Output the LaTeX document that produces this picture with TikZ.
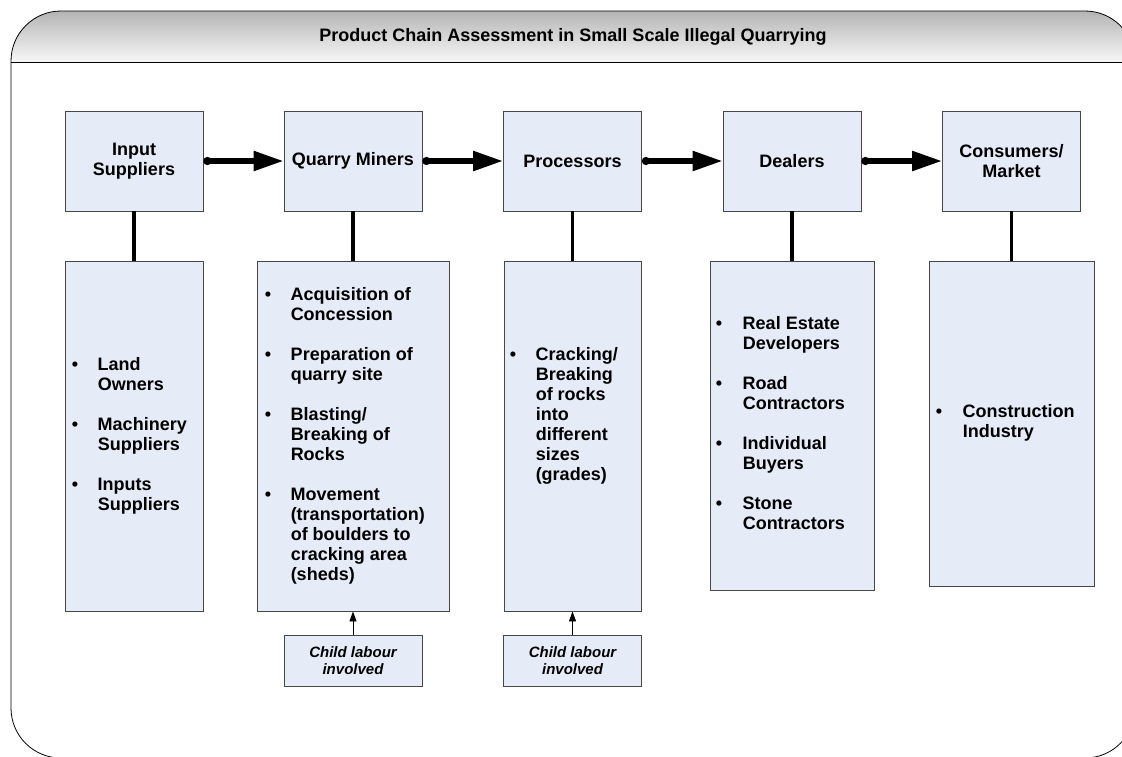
\documentclass[tikz,border=0pt]{standalone}
\usepackage{fontspec}
\setmainfont{Liberation Sans}
\usetikzlibrary{arrows.meta}

\definecolor{boxfill}{RGB}{229,235,247}
\definecolor{boxline}{RGB}{70,70,70}
\definecolor{bartop}{RGB}{180,180,180}
\definecolor{barbot}{RGB}{248,248,248}

\begin{document}
\begin{tikzpicture}[x=1pt, y=-1pt,
    stage/.style={draw=boxline, fill=boxfill, line width=0.9pt, minimum width=138pt, minimum height=100pt, inner sep=0pt, align=center, font=\fontsize{18}{20}\selectfont\bfseries},
    detail/.style={draw=boxline, fill=boxfill, line width=0.9pt, inner sep=0pt},
    items/.style={anchor=west, inner sep=0pt, font=\fontsize{18}{20}\selectfont\bfseries},
    child/.style={draw=boxline, fill=boxfill, line width=0.9pt, minimum width=138pt, minimum height=51pt, inner sep=0pt, align=center, font=\fontsize{15}{16.5}\selectfont\bfseries\itshape},
    flow/.style={line width=5.5pt, {Circle[length=8pt, width=8pt]}-{Triangle[length=30pt, width=19pt]}},
    link/.style={line width=3.5pt},
    feed/.style={line width=0.9pt, -{Triangle[length=10pt, width=7pt]}}]

  \useasboundingbox (0,0) rectangle (1122,756);
  \clip (0,0) rectangle (1122,756);

  % frame and title bar
  \begin{scope}
    \clip[rounded corners=50pt] (11,11) rectangle (1135,758);
    \shade[top color=bartop, bottom color=barbot] (11,11) rectangle (1135,62);
  \end{scope}
  \draw[line width=0.8pt, rounded corners=50pt] (11,11) rectangle (1135,758);
  \draw[line width=0.8pt] (11,62) -- (1135,62);
  \node[font=\fontsize{18}{20}\selectfont\bfseries] (title) at (573,36.5) {Product Chain Assessment in Small Scale Illegal Quarrying};

  % stages of the chain
  \node[stage] (S1) at (134,161) {Input\\Suppliers};
  \node[stage] (S2) at (353,161) {Quarry Miners};
  \node[stage] (S3) at (572.5,161) {Processors};
  \node[stage] (S4) at (792,161) {Dealers};
  \node[stage] (S5) at (1011.5,161) {Consumers/\\Market};

  % actors / activities
  \node[detail, minimum width=138pt, minimum height=350pt] (D1) at (134,436) {};
  \node[detail, minimum width=192pt, minimum height=350pt] (D2) at (353,436) {};
  \node[detail, minimum width=137pt, minimum height=350pt] (D3) at (572.5,436) {};
  \node[detail, minimum width=164pt, minimum height=329pt] (D4) at (792,425.5) {};
  \node[detail, minimum width=165pt, minimum height=325pt] (D5) at (1011.5,423.5) {};

  \node[items] (L1) at ([xshift=7pt]D1.west) {\begin{tabular}{@{}p{26pt}@{}l@{}}
    \textbullet & Land\\ & Owners\\[20pt]
    \textbullet & Machinery\\ & Suppliers\\[20pt]
    \textbullet & Inputs\\ & Suppliers
  \end{tabular}};
  \node[items] (L2) at ([xshift=8pt]D2.west) {\begin{tabular}{@{}p{26pt}@{}l@{}}
    \textbullet & Acquisition of\\ & Concession\\[20pt]
    \textbullet & Preparation of\\ & quarry site\\[20pt]
    \textbullet & Blasting/\\ & Breaking of\\ & Rocks\\[20pt]
    \textbullet & Movement\\ & (transportation)\\ & of boulders to\\ & cracking area\\ & (sheds)
  \end{tabular}};
  \node[items] (L3) at ([xshift=6pt, yshift=20pt]D3.west) {\begin{tabular}{@{}p{26pt}@{}l@{}}
    \textbullet & Cracking/\\ & Breaking\\ & of rocks\\ & into\\ & different\\ & sizes\\ & (grades)
  \end{tabular}};
  \node[items] (L4) at ([xshift=6pt]D4.west) {\begin{tabular}{@{}p{27pt}@{}l@{}}
    \textbullet & Real Estate\\ & Developers\\[20pt]
    \textbullet & Road\\ & Contractors\\[20pt]
    \textbullet & Individual\\ & Buyers\\[20pt]
    \textbullet & Stone\\ & Contractors
  \end{tabular}};
  \node[items] (L5) at ([xshift=7pt]D5.west) {\begin{tabular}{@{}p{27pt}@{}l@{}}
    \textbullet & Construction\\ & Industry
  \end{tabular}};

  % child labour notes
  \node[child] (C2) at (353,660.5) {Child labour\\involved};
  \node[child] (C3) at (572.5,660.5) {Child labour\\involved};

  \foreach \i in {1,...,4} {
    \pgfmathtruncatemacro{\next}{\i+1}
    \draw[flow] (S\i.east) -- (S\next.west);
  }
  \foreach \i in {1,...,5} {
    \draw[link] (S\i.south) -- (D\i.north);
  }
  \draw[feed] (C2) -- (D2);
  \draw[feed] (C3) -- (D3);
\end{tikzpicture}
\end{document}
